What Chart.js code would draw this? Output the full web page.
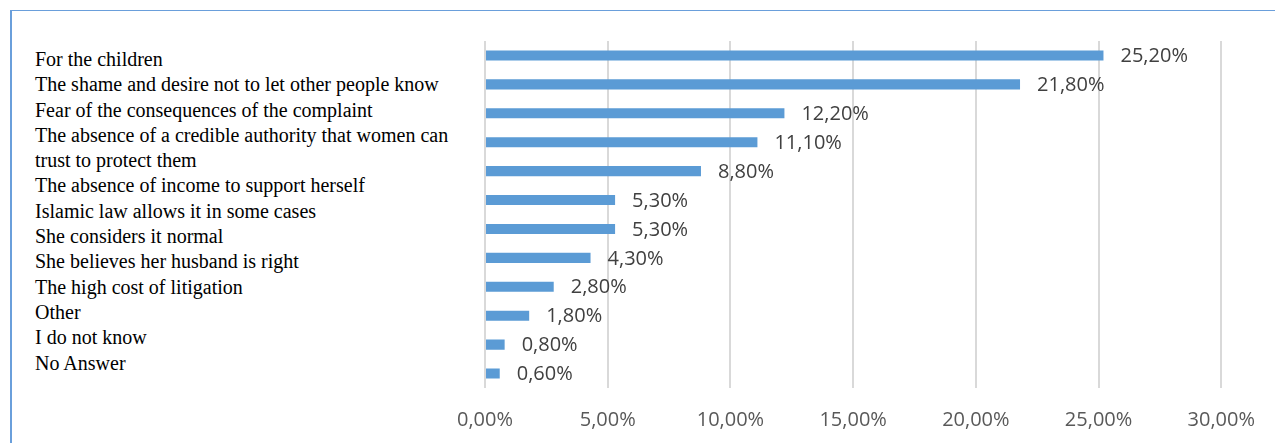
<!DOCTYPE html>
<html>
<head>
<meta charset="utf-8">
<script src="https://cdn.jsdelivr.net/npm/chart.js@4.4.1/dist/chart.umd.min.js"></script>
<style>
  html, body { margin: 0; padding: 0; background: #fff; overflow: hidden; }
  #frame {
    position: absolute; left: 10px; top: 10px; width: 1265px; height: 433px;
    border-left: 2px solid #6A9FDB; border-top: 1px solid #6A9FDB;
  }
  #labels {
    position: absolute; left: 35px; top: 47px; width: 440px;
    font-family: "Liberation Serif", "Times New Roman", serif;
    font-size: 20px; line-height: 25.3px; color: #000;
  }
  #wrap { position: absolute; left: 437px; top: 0; width: 838px; height: 452px; }
</style>
</head>
<body>
<div id="frame"></div>
<div id="labels"></div>
<div id="wrap"><canvas id="chart"></canvas></div>
<script>
// categories, top to bottom
const categories = [
  'For the children',
  'The shame and desire not to let other people know',
  'Fear of the consequences of the complaint',
  ['The absence of a credible authority that women can', 'trust to protect them'],
  'The absence of income to support herself',
  'Islamic law allows it in some cases',
  'She considers it normal',
  'She believes her husband is right',
  'The high cost of litigation',
  'Other',
  'I do not know',
  'No Answer'
];
const values = [25.2, 21.8, 12.2, 11.1, 8.8, 5.3, 5.3, 4.3, 2.8, 1.8, 0.8, 0.6];
const tickValues = [0, 5, 10, 15, 20, 25, 30];

const fmt = (v, d) => v.toFixed(d).replace('.', ',') + '%';

// label list on the left (separate text box, like the original)
const labelBox = document.getElementById('labels');
categories.forEach(c => {
  const lines = Array.isArray(c) ? c : [c];
  lines.forEach(l => {
    const div = document.createElement('div');
    div.textContent = l;
    div.style.whiteSpace = 'nowrap';
    labelBox.appendChild(div);
  });
});

// value labels at the end of the bars
const valueLabels = {
  id: 'valueLabels',
  afterDatasetsDraw(chart) {
    const ctx = chart.ctx;
    const meta = chart.getDatasetMeta(0);
    ctx.save();
    ctx.font = '20px "Open Sans", sans-serif';
    ctx.fillStyle = '#404040';
    ctx.textAlign = 'left';
    ctx.textBaseline = 'middle';
    meta.data.forEach((bar, i) => {
      ctx.fillText(fmt(values[i], 2), bar.x + 17, bar.y + 1);
    });
    ctx.restore();
  }
};

const ctx = document.getElementById('chart').getContext('2d');
new Chart(ctx, {
  type: 'bar',
  data: {
    labels: categories,
    datasets: [{
      data: values,
      backgroundColor: '#5B9BD5',
      barPercentage: 0.7,
      categoryPercentage: 0.5
    }]
  },
  options: {
    indexAxis: 'y',
    responsive: true,
    maintainAspectRatio: false,
    animation: false,
    layout: { padding: { left: 37, right: 53, top: 41, bottom: 0 } },
    plugins: { legend: { display: false }, tooltip: { enabled: false } },
    scales: {
      x: {
        min: 0,
        max: 30,
        afterBuildTicks: axis => { axis.ticks = tickValues.map(v => ({ value: v })); },
        grid: { color: '#D9D9D9', lineWidth: 2, drawTicks: false },
        border: { display: false },
        ticks: {
          padding: 20,
          color: '#595959',
          font: { family: '"Open Sans", sans-serif', size: 20 },
          callback: v => fmt(v, 2)
        }
      },
      y: {
        display: false
      }
    }
  },
  plugins: [valueLabels]
});
</script>
</body>
</html>
